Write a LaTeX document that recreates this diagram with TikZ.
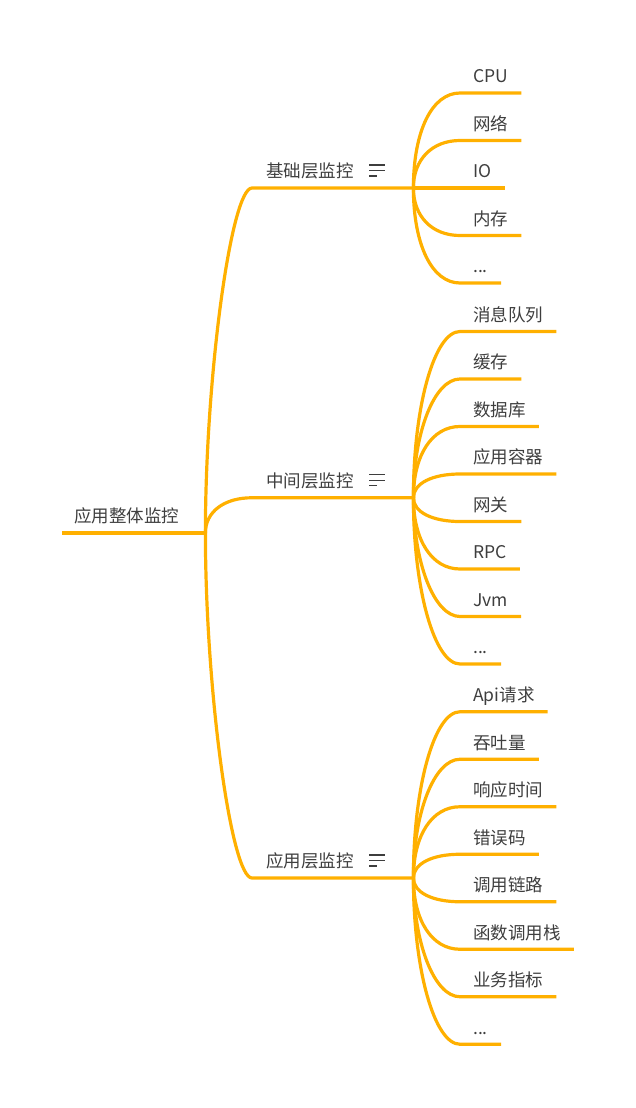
\documentclass[tikz,border=0pt]{standalone}
\usepackage{fontspec}
\setmainfont{Noto Sans CJK SC}
\usepackage{tikz}
\usetikzlibrary{calc}

\definecolor{mapline}{RGB}{255,176,0}
\definecolor{maptext}{RGB}{62,62,62}

\newcommand{\topicmenu}[1]{%
  \draw[menuline] ([shift={(117,-23)}]#1.south west) -- +(16,0);
  \draw[menuline] ([shift={(117,-17.5)}]#1.south west) -- +(16,0);
  \draw[menuline] ([shift={(117,-12)}]#1.south west) -- +(8,0);
}

\begin{document}
\begin{tikzpicture}[x=1pt, y=-1pt,
  stem/.style={draw=mapline, line width=3.2pt, line join=round},
  menuline/.style={draw=maptext, line width=1.1pt},
  bend to/.style={to path={.. controls ($(\tikztostart)!#1!(\tikztostart |- \tikztotarget)$) and ($(\tikztotarget)!#1!(\tikztostart |- \tikztotarget)$) .. (\tikztotarget)}},
  label/.style={anchor=south west, inner ysep=10pt, text depth=0pt, text=maptext, font=\fontsize{17.5}{21}\selectfont},
  rootbox/.style={label, inner xsep=12pt, text width=119pt, align=left},
  topicbox/.style={label, inner xsep=14pt, text width=133pt, align=left},
  leafbox/.style={label, inner xsep=13pt}]

  \useasboundingbox (0,0) rectangle (635,1108);

  \node[rootbox] (root) at (62,533) {应用整体监控};

  \node[topicbox] (base) at (252,188) {基础层监控};
  \node[topicbox] (mid) at (252,497.75) {中间层监控};
  \node[topicbox] (app) at (252,878) {应用层监控};

  \node[leafbox] (cpu) at (460,93) {CPU};
  \node[leafbox] (net) at (460,140.5) {网络};
  \node[leafbox] (io) at (460,188) {IO};
  \node[leafbox] (mem) at (460,235.5) {内存};
  \node[leafbox] (baseetc) at (460,283) {...};

  \node[leafbox] (mq) at (460,331.5) {消息队列};
  \node[leafbox] (cache) at (460,379) {缓存};
  \node[leafbox] (db) at (460,426.5) {数据库};
  \node[leafbox] (container) at (460,474) {应用容器};
  \node[leafbox] (gateway) at (460,521.5) {网关};
  \node[leafbox] (rpc) at (460,569) {RPC};
  \node[leafbox] (jvm) at (460,616.5) {Jvm};
  \node[leafbox] (midetc) at (460,664) {...};

  \node[leafbox] (api) at (460,711.75) {Api请求};
  \node[leafbox] (tput) at (460,759.25) {吞吐量};
  \node[leafbox] (rtime) at (460,806.75) {响应时间};
  \node[leafbox] (errcode) at (460,854.25) {错误码};
  \node[leafbox] (trace) at (460,901.75) {调用链路};
  \node[leafbox] (stack) at (460,949.25) {函数调用栈};
  \node[leafbox] (biz) at (460,996.75) {业务指标};
  \node[leafbox] (appetc) at (460,1044.25) {...};

  \draw[stem] (root.south west) -- (root.south east);

  \draw[stem] (root.south east) to[bend to=.45] (base.south west) -- (base.south east);
  \draw[stem] (root.south east) to[bend to=.6] (mid.south west) -- (mid.south east);
  \draw[stem] (root.south east) to[bend to=.45] (app.south west) -- (app.south east);

  \topicmenu{base}
  \topicmenu{mid}
  \topicmenu{app}

  \draw[stem] (base.south east) to[bend to=.6] (cpu.south west) -- (cpu.south east);
  \draw[stem] (base.south east) to[bend to=.6] (net.south west) -- (net.south east);
  \draw[stem] (base.south east) -- (io.south west) -- (io.south east);
  \draw[stem] (base.south east) to[bend to=.6] (mem.south west) -- (mem.south east);
  \draw[stem] (base.south east) to[bend to=.6] (baseetc.south west) -- (baseetc.south east);

  \draw[stem] (mid.south east) to[bend to=.55] (mq.south west) -- (mq.south east);
  \draw[stem] (mid.south east) to[bend to=.55] (cache.south west) -- (cache.south east);
  \draw[stem] (mid.south east) to[bend to=.6] (db.south west) -- (db.south east);
  \draw[stem] (mid.south east) to[bend to=.6] (container.south west) -- (container.south east);
  \draw[stem] (mid.south east) to[bend to=.6] (gateway.south west) -- (gateway.south east);
  \draw[stem] (mid.south east) to[bend to=.6] (rpc.south west) -- (rpc.south east);
  \draw[stem] (mid.south east) to[bend to=.55] (jvm.south west) -- (jvm.south east);
  \draw[stem] (mid.south east) to[bend to=.55] (midetc.south west) -- (midetc.south east);

  \draw[stem] (app.south east) to[bend to=.55] (api.south west) -- (api.south east);
  \draw[stem] (app.south east) to[bend to=.55] (tput.south west) -- (tput.south east);
  \draw[stem] (app.south east) to[bend to=.6] (rtime.south west) -- (rtime.south east);
  \draw[stem] (app.south east) to[bend to=.6] (errcode.south west) -- (errcode.south east);
  \draw[stem] (app.south east) to[bend to=.6] (trace.south west) -- (trace.south east);
  \draw[stem] (app.south east) to[bend to=.6] (stack.south west) -- (stack.south east);
  \draw[stem] (app.south east) to[bend to=.55] (biz.south west) -- (biz.south east);
  \draw[stem] (app.south east) to[bend to=.55] (appetc.south west) -- (appetc.south east);

\end{tikzpicture}
\end{document}
